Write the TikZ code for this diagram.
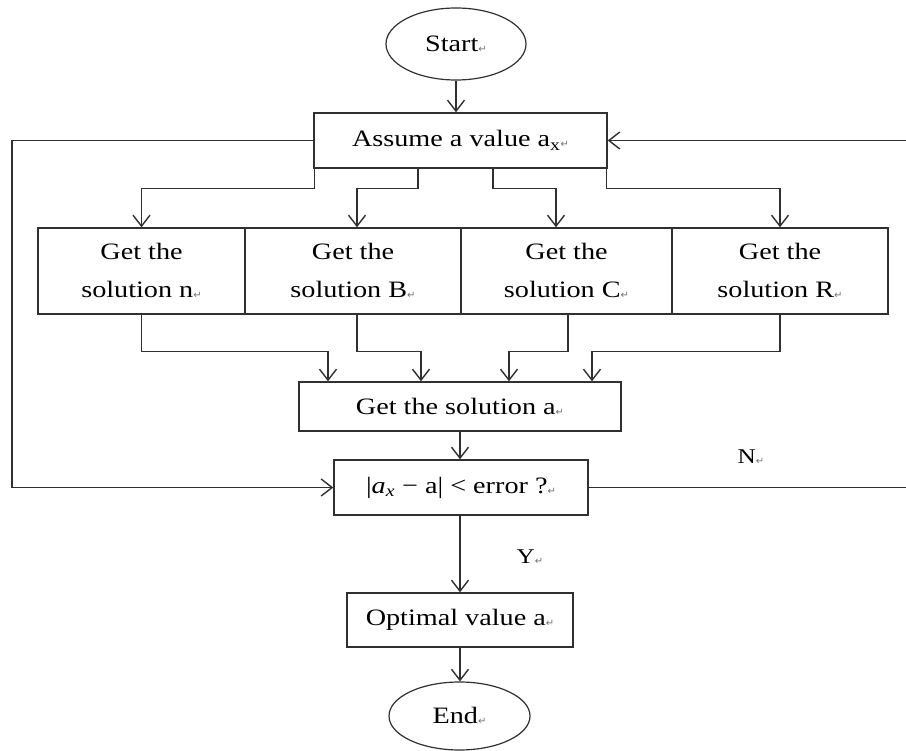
\documentclass[tikz,border=0pt]{standalone}
\usepackage{fontspec}
\setmainfont[FakeStretch=1.2]{Liberation Serif}
\newfontfamily\symf{DejaVu Sans}
\usetikzlibrary{arrows.meta,shapes.geometric}
\newcommand\pmk{{\symf\fontsize{10}{10}\selectfont\color{black!55}\raisebox{-1pt}{↵}}}
\definecolor{ln}{HTML}{303030}
\tikzset{
  box/.style={draw=ln,line width=1.4pt,rectangle,inner sep=0pt,align=center,font=\fontsize{23.5}{38}\selectfont},
  oval/.style={draw=ln,line width=1.2pt,ellipse,inner sep=0pt,font=\fontsize{23.5}{38}\selectfont},
  arr/.style={draw=ln,line width=1.4pt,-{Straight Barb[length=11pt,width=17pt,line width=1.4pt]}},
  ln/.style={draw=ln,line width=1.4pt},
  lbl/.style={font=\fontsize{21}{24}\selectfont,inner sep=0pt}
}
\begin{document}
\begin{tikzpicture}[x=1pt,y=-1pt]
\useasboundingbox[fill=white] (0,0) rectangle (906,751);
\node[oval,minimum width=140pt,minimum height=72pt] (start) at (456,44) {Start\pmk};
\node[box,minimum width=293pt,minimum height=55pt] (assume) at (460.5,140.5) {Assume a value a\textsubscript{x}\pmk};
\node[box,minimum width=207pt,minimum height=86pt] (sn) at (141.5,271) {Get the\\solution n\pmk};
\node[box,minimum width=216pt,minimum height=86pt] (sB) at (353,271) {Get the\\solution B\pmk};
\node[box,minimum width=211pt,minimum height=86pt] (sC) at (566.5,271) {Get the\\solution C\pmk};
\node[box,minimum width=216pt,minimum height=86pt] (sR) at (780,271) {Get the\\solution R\pmk};
\node[box,minimum width=322pt,minimum height=49pt] (sa) at (460,406.5) {Get the solution a\pmk};
\node[box,minimum width=254pt,minimum height=55pt] (err) at (461,487.5) {|\textit{a}\textsubscript{\textit{x}} − a| < error ?\pmk};
\node[box,minimum width=226pt,minimum height=54pt] (opt) at (460,620) {Optimal value a\pmk};
\node[oval,minimum width=141pt,minimum height=68pt] (end) at (459.5,716) {End\pmk};
\node[lbl] (N) at (751,457) {N\pmk};
\node[lbl] (Y) at (530,557) {Y\pmk};
% helper x positions
\coordinate (xb) at (418,0);
\coordinate (xc) at (493,0);
\coordinate (xc2) at (556,0);
\coordinate (xbB) at (357,0);
\coordinate (xcC) at (568,0);
\coordinate (t1) at (328,0);
\coordinate (t2) at (421,0);
\coordinate (t3) at (509,0);
\coordinate (t4) at (592,0);
\coordinate (lx) at (12,0);
\coordinate (rx) at (906,0);
% top flow
\draw[arr] (start.south) -- (start.south |- assume.north);
\draw[arr] ([xshift=1pt]assume.south west) -- ++(0,20) -| (sn.north);
\draw[arr] (assume.south -| xb) -- ++(0,20) -| (sB.north -| xbB);
\draw[arr] (assume.south -| xc) -- ++(0,20) -| (sC.north -| xc2);
\draw[arr] ([xshift=-1pt]assume.south east) -- ++(0,20) -| (sR.north);
% to solution a
\draw[arr] (sn.south) -- ++(0,37) -| (sa.north -| t1);
\draw[arr] (sB.south -| xbB) -- ++(0,37) -| (sa.north -| t2);
\draw[arr] (sC.south -| xcC) -- ++(0,37) -| (sa.north -| t3);
\draw[arr] (sR.south) -- ++(0,37) -| (sa.north -| t4);
\draw[arr] (sa.south) -- (sa.south |- err.north);
% loops
\draw[arr] (assume.west) -- (assume.west -| lx) |- (err.west);
\draw[ln] (err.east) -- (err.east -| rx);
\draw[arr] (assume.east -| rx) -- (assume.east);
% bottom
\draw[arr] (opt.north |- err.south) -- (opt.north);
\draw[arr] (opt.south) -- (opt.south |- end.north);
\end{tikzpicture}
\end{document}
